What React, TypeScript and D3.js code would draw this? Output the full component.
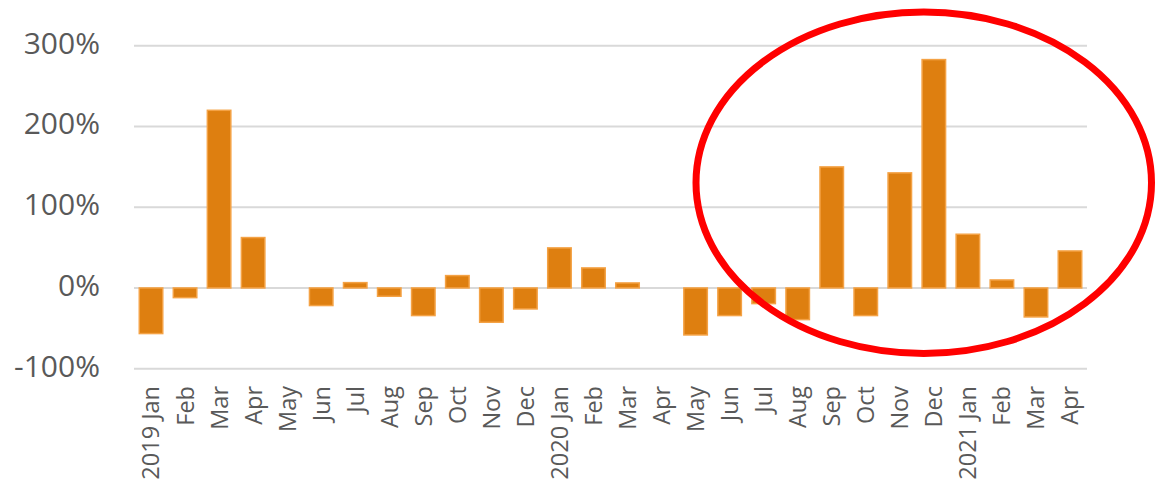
import React from "react";
import * as d3 from "d3";

const categories = [
  "2019 Jan", "Feb", "Mar", "Apr", "May", "Jun", "Jul", "Aug", "Sep", "Oct", "Nov", "Dec",
  "2020 Jan", "Feb", "Mar", "Apr", "May", "Jun", "Jul", "Aug", "Sep", "Oct", "Nov", "Dec",
  "2021 Jan", "Feb", "Mar", "Apr",
];
const values = [
  -56.5, -12, 220, 62.4, 0, -21.8, 6.6, -10.3, -34.2, 15.3, -42.5, -26,
  49.6, 24.8, 6.2, 0, -58.2, -34.2, -19.4, -39.2, 149.9, -34.2, 142.5, 282.8,
  66.5, 9.9, -35.9, 45.8,
];
const yTicks = [-100, 0, 100, 200, 300];

const W = 1160;
const H = 483;
const FONT = "'Open Sans', sans-serif";

export default function App() {
  const idx = categories.map((_, i) => String(i));
  const x = d3.scaleBand<string>().domain(idx).range([134, 1087]).paddingInner(0.31).paddingOuter(0.155);
  const y = d3.scaleLinear().domain([-100, 300]).range([368.7, 45.7]);

  return (
    <svg width={W} height={H} style={{ position: "absolute", left: 0, top: 0, background: "#fff" }}>
      {yTicks.map((t) => (
        <g key={t}>
          <line x1={134} x2={1087} y1={y(t)} y2={y(t)} stroke="#d9d9d9" strokeWidth={2} />
          <text x={100} y={y(t) + 8} textAnchor="end" fontFamily={FONT} fontSize={30} fill="#595959">
            {t}%
          </text>
        </g>
      ))}
      {values.map((v, i) => {
        const x0 = x(String(i))!;
        const y0 = y(Math.max(0, v));
        const h = Math.abs(y(v) - y(0));
        if (h === 0) return null;
        return (
          <rect key={i} x={x0} y={y0} width={x.bandwidth()} height={h}
            fill="#DE7F10" stroke="#F4A245" strokeWidth={1.5} />
        );
      })}
      {categories.map((c, i) => {
        const cx = x(String(i))! + x.bandwidth() / 2;
        return (
          <text key={i} transform={`translate(${cx},386) rotate(-90)`} textAnchor="end" dy="0.36em"
            fontFamily={FONT} fontSize={23.5} fill="#595959">
            {c}
          </text>
        );
      })}
      <ellipse cx={923.75} cy={182.75} rx={227.75} ry={170.75} fill="none" stroke="#FF0000" strokeWidth={7} />
    </svg>
  );
}
